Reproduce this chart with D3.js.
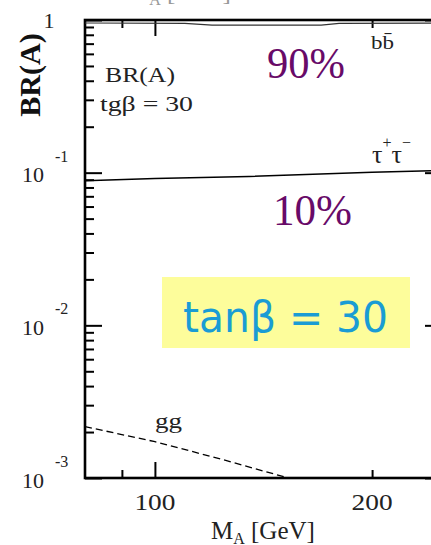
<!DOCTYPE html>
<html>
<head>
<meta charset="utf-8">
<script src="https://cdn.jsdelivr.net/npm/d3@7"></script>
<style>
  html, body { margin: 0; padding: 0; background: #fff; }
  svg { display: block; }
</style>
</head>
<body>
<script>
// Branching ratios of the CP-odd Higgs A versus its mass, tan(beta) = 30
const massTau = [80, 100, 135, 200, 250];
const brTau   = [0.0885, 0.0915, 0.0945, 0.1005, 0.1035];

const massBB  = [80, 110, 120, 170, 180, 250];
const brBB    = [0.955, 0.95, 0.925, 0.925, 0.95, 0.955];

const massGG  = [80, 100, 125, 153, 180];
const brGG    = [0.00217, 0.00173, 0.00131, 0.001, 0.0008];

const xMajorTicks = [100];
const xMinorTicks = [90, 200];
const xTickLabels = [100, 200];

const yDecades   = [1, 0.1, 0.01, 0.001];
const yTickBase  = ["1", "10", "10", "10"];
const yTickExp   = ["", "-1", "-2", "-3"];

const W = 431, H = 545;
const serif = "'Liberation Serif', 'Times New Roman', serif";

const svg = d3.select("body").append("svg")
  .attr("width", W).attr("height", H);

const x = d3.scaleLog().domain([80, 250]).range([85, 442]);
const y = d3.scaleLog().domain([1e-3, 1]).range([478, 20]);

const [x0, x1] = x.range();
const [yb, yt] = y.range();

// minor log ticks 2..9 within every decade
const yMinorTicks = [];
yDecades.forEach(d => { if (d < 1) for (let k = 2; k <= 9; k++) yMinorTicks.push(k * d); });

// clip region for the curves
svg.append("defs").append("clipPath").attr("id", "plot")
  .append("rect").attr("x", x0).attr("y", yt).attr("width", x1 - x0).attr("height", yb - yt);

// ---- tick marks on all four sides ----
function styleTicks(g) {
  g.select(".domain").remove();
  g.selectAll(".tick line").attr("stroke", "#000").attr("stroke-width", 2);
  g.selectAll(".tick text").remove();
}
svg.append("g").attr("transform", `translate(${x0},0)`)
  .call(d3.axisLeft(y).tickValues(yDecades).tickSize(-17).tickSizeOuter(0)).call(styleTicks);
svg.append("g").attr("transform", `translate(${x0},0)`)
  .call(d3.axisLeft(y).tickValues(yMinorTicks).tickSize(-9).tickSizeOuter(0)).call(styleTicks);
svg.append("g").attr("transform", `translate(${x1},0)`)
  .call(d3.axisRight(y).tickValues(yDecades).tickSize(-17).tickSizeOuter(0)).call(styleTicks);
svg.append("g").attr("transform", `translate(${x1},0)`)
  .call(d3.axisRight(y).tickValues(yMinorTicks).tickSize(-9).tickSizeOuter(0)).call(styleTicks);

svg.append("g").attr("transform", `translate(0,${yb})`)
  .call(d3.axisBottom(x).tickValues(xMajorTicks).tickSize(-16).tickSizeOuter(0)).call(styleTicks);
svg.append("g").attr("transform", `translate(0,${yb})`)
  .call(d3.axisBottom(x).tickValues(xMinorTicks).tickSize(-8).tickSizeOuter(0)).call(styleTicks);
svg.append("g").attr("transform", `translate(0,${yt})`)
  .call(d3.axisTop(x).tickValues(xMajorTicks).tickSize(-16).tickSizeOuter(0)).call(styleTicks);
svg.append("g").attr("transform", `translate(0,${yt})`)
  .call(d3.axisTop(x).tickValues(xMinorTicks).tickSize(-8).tickSizeOuter(0)).call(styleTicks);

// ---- frame ----
svg.append("rect")
  .attr("x", x0).attr("y", yt).attr("width", x1 - x0).attr("height", yb - yt)
  .attr("fill", "none").attr("stroke", "#000").attr("stroke-width", 2.6);

// ---- curves ----
const line = d3.line().x(d => x(d[0])).y(d => y(d[1]));
const curves = svg.append("g").attr("clip-path", "url(#plot)").attr("fill", "none");

curves.append("path").datum(d3.zip(massBB, brBB))
  .attr("d", line).attr("stroke", "#333").attr("stroke-width", 1.1);
curves.append("path").datum(d3.zip(massTau, brTau))
  .attr("d", line).attr("stroke", "#000").attr("stroke-width", 1.5);
curves.append("path").datum(d3.zip(massGG, brGG))
  .attr("d", line).attr("stroke", "#000").attr("stroke-width", 1.3)
  .attr("stroke-dasharray", "7,4");

// ---- y tick labels ----
yDecades.forEach((d, i) => {
  const ty = y(d);
  if (yTickExp[i] === "") {
    svg.append("text").attr("x", 49).attr("y", ty + 8).attr("text-anchor", "middle")
      .attr("font-family", serif).attr("font-size", 22).attr("fill", "#222").text(yTickBase[i]);
  } else {
    svg.append("text").attr("x", 22).attr("y", ty + 9.5)
      .attr("font-family", serif).attr("font-size", 22).attr("fill", "#222").text(yTickBase[i]);
    svg.append("text").attr("x", 55).attr("y", ty - 11)
      .attr("font-family", serif).attr("font-size", 16).attr("fill", "#222").text(yTickExp[i]);
  }
});

// ---- x tick labels ----
xTickLabels.forEach(v => {
  svg.append("text").attr("x", x(v)).attr("y", 510).attr("text-anchor", "middle")
    .attr("font-family", serif).attr("font-size", 23).attr("fill", "#222")
    .attr("textLength", 41).attr("lengthAdjust", "spacingAndGlyphs").text(v);
});

// ---- axis titles ----
function massTitle(xs, ys, color) {
  const t = svg.append("text").attr("x", xs).attr("y", ys)
    .attr("font-family", serif).attr("font-size", 25).attr("fill", color);
  t.append("tspan").text("M");
  t.append("tspan").attr("font-size", 16).attr("dy", 5).text("A");
  t.append("tspan").attr("dy", -5).text(" [GeV]");
  return t;
}
massTitle(211, 539, "#222");
massTitle(127, 0, "#999");

svg.append("text")
  .attr("transform", "translate(40,75) rotate(-90)")
  .attr("text-anchor", "middle")
  .attr("font-family", serif).attr("font-weight", "bold").attr("font-size", 30)
  .attr("fill", "#111").text("BR(A)");

// ---- in-plot annotations ----
svg.append("text").attr("x", 105).attr("y", 82)
  .attr("font-family", serif).attr("font-size", 22).attr("fill", "#222")
  .attr("textLength", 70).attr("lengthAdjust", "spacingAndGlyphs").text("BR(A)");
svg.append("text").attr("x", 100).attr("y", 111)
  .attr("font-family", serif).attr("font-size", 22).attr("fill", "#222")
  .attr("textLength", 93).attr("lengthAdjust", "spacingAndGlyphs").text("tgβ = 30");

svg.append("text").attr("x", 371).attr("y", 49)
  .attr("font-family", serif).attr("font-size", 18).attr("fill", "#222")
  .attr("textLength", 23).attr("lengthAdjust", "spacingAndGlyphs").text("bb\u0304");

const tau = svg.append("text").attr("x", 372).attr("y", 163)
  .attr("font-family", serif).attr("font-size", 26).attr("fill", "#222");
tau.append("tspan").text("τ");
tau.append("tspan").attr("font-size", 16).attr("dy", -15).text("+");
tau.append("tspan").attr("dy", 15).text("τ");
tau.append("tspan").attr("font-size", 16).attr("dy", -15).text("−");

svg.append("text").attr("x", 155).attr("y", 428)
  .attr("font-family", serif).attr("font-size", 21).attr("fill", "#222")
  .attr("textLength", 27).attr("lengthAdjust", "spacingAndGlyphs").text("gg");

// percentage callouts
const purple = "#680a68";
svg.append("text").attr("x", 267).attr("y", 78)
  .attr("font-family", serif).attr("font-size", 45).attr("fill", purple)
  .attr("textLength", 78).attr("lengthAdjust", "spacingAndGlyphs").text("90%");
svg.append("text").attr("x", 273).attr("y", 225)
  .attr("font-family", serif).attr("font-size", 45).attr("fill", purple)
  .attr("textLength", 79).attr("lengthAdjust", "spacingAndGlyphs").text("10%");

// tan(beta) highlight box
svg.append("rect").attr("x", 162).attr("y", 277).attr("width", 248).attr("height", 71)
  .attr("fill", "#fdfd9b");
svg.append("text").attr("x", 183).attr("y", 332)
  .attr("font-family", "'DejaVu Sans', sans-serif").attr("font-size", 42).attr("fill", "#1a9cd4")
  .attr("textLength", 205).attr("lengthAdjust", "spacingAndGlyphs").text("tanβ = 30");
</script>
</body>
</html>
